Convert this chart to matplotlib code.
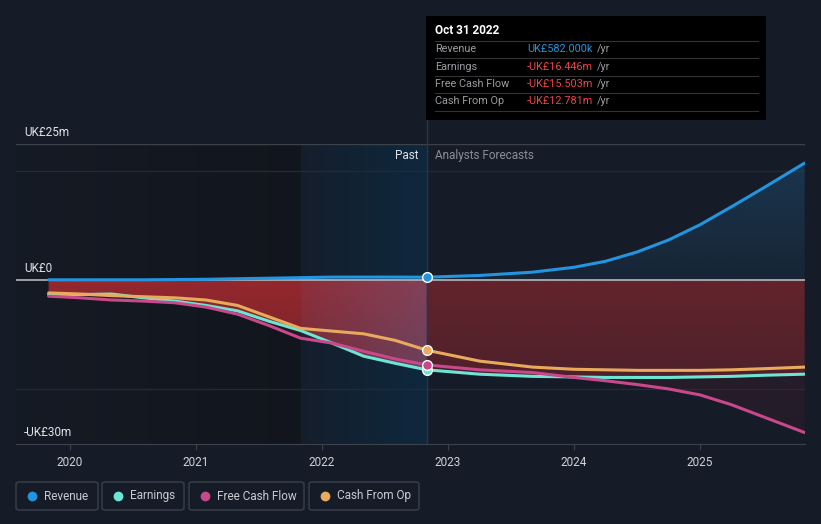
import numpy as np
import matplotlib
matplotlib.use('Agg')
import matplotlib.pyplot as plt
from matplotlib.patches import Rectangle, FancyBboxPatch
from matplotlib.lines import Line2D

plt.rcParams['font.family'] = ['Roboto', 'DejaVu Sans']

# --- data (UK£ m) ---
t = [2019.83, 2020.08, 2020.33, 2020.58, 2020.83, 2021.08, 2021.33, 2021.58,
     2021.83, 2022.08, 2022.33, 2022.58, 2022.83, 2023.25, 2023.67, 2024.0,
     2024.25, 2024.5, 2024.75, 2025.0, 2025.25, 2025.5, 2025.83]
revenue = [0.1, 0.1, 0.1, 0.1, 0.15, 0.2, 0.3, 0.4,
           0.5, 0.6, 0.6, 0.6, 0.58, 0.9, 1.5, 2.4,
           3.5, 5.2, 7.4, 10.2, 13.5, 16.9, 21.5]
earnings = [-2.6, -2.6, -2.5, -3.2, -3.8, -4.6, -5.6, -7.5,
            -9.2, -11.5, -13.9, -15.2, -16.4, -17.2, -17.6, -17.7,
            -17.8, -17.8, -17.8, -17.7, -17.6, -17.4, -17.2]
fcf = [-2.9, -3.2, -3.6, -3.8, -4.1, -4.9, -6.2, -8.3,
       -10.6, -11.5, -13.0, -14.4, -15.5, -16.4, -16.9, -17.8,
       -18.4, -19.1, -19.9, -21.0, -22.8, -25.0, -27.9]
cash_op = [-2.3, -2.5, -2.8, -3.0, -3.2, -3.6, -4.6, -6.7,
           -8.8, -9.3, -9.8, -11.0, -12.8, -14.8, -15.9, -16.3,
           -16.4, -16.5, -16.5, -16.5, -16.4, -16.2, -15.9]
now = 2022.83
past_start = 2021.83
year_ticks = [2020, 2021, 2022, 2023, 2024, 2025]
series = [('Revenue', revenue, '#2394df'), ('Earnings', earnings, '#6ce5d4'),
          ('Free Cash Flow', fcf, '#c9488b'), ('Cash From Op', cash_op, '#e8aa5c')]

W, H = 821, 524
BG = '#161c27'
fig = plt.figure(figsize=(W / 100, H / 100), dpi=100, facecolor=BG)


def fx(px):
    return px / W


def fy(py):
    return 1 - py / H


ax = fig.add_axes([fx(16), fy(444), fx(805) - fx(16), fy(144) - fy(444)])
ax.set_facecolor(BG)
x0, x1 = 2019.571, 2025.833

# darker past region, then highlighted last year
grad = np.linspace(0, 1, 256).reshape(1, -1)
dark = np.zeros((1, 256, 4))
dark[..., :3] = np.array([0.06, 0.07, 0.09])
dark[..., 3] = 0.15 + 0.45 * grad
ax.imshow(dark, extent=[x0, past_start, -30, 25], aspect='auto', zorder=0)
hl = np.zeros((1, 256, 4))
hl[..., :3] = np.array([0.05, 0.17, 0.27])
hl[..., 3] = 0.15 + 0.65 * grad
ax.imshow(hl, extent=[past_start, now, -30, 25], aspect='auto', zorder=0)

# gridlines
for v, c in [(25, '#3c424c'), (20, '#232935'), (-20, '#232935')]:
    ax.axhline(v, color=c, lw=1, zorder=1)


# filled areas with vertical gradient, clipped to the area polygons
def grad_fill(y, color, alpha_top, alpha_bot, alpha_future_scale, z):
    poly = ax.fill_between(t, 0, y, color='none', lw=0)
    img = np.zeros((200, 400, 4))
    img[..., :3] = matplotlib.colors.to_rgb(color)
    vv = np.linspace(1, 0, 200).reshape(-1, 1)
    xx = np.linspace(x0, x1, 400).reshape(1, -1)
    a = alpha_bot + (alpha_top - alpha_bot) * vv
    scale = np.where(xx > now, alpha_future_scale, 1.0)
    img[..., 3] = a * scale
    ymin = min(min(y), 0)
    ymax = max(max(y), 0)
    im = ax.imshow(img, extent=[x0, x1, ymin, ymax], aspect='auto', zorder=z)
    im.set_clip_path(poly.get_paths()[0], transform=ax.transData)
    return poly


grad_fill(revenue, '#1d4a70', 0.55, 0.2, 1.0, 2)
grad_fill(fcf, '#5a2030', 0.35, 0.25, 0.8, 2)
epoly = grad_fill(earnings, '#b02c30', 0.8, 0.55, 0.55, 2)

# bluish tint of the red area inside the highlighted year
tint = np.zeros((1, 256, 4))
tint[..., :3] = matplotlib.colors.to_rgb('#5a7ab8')
tint[..., 3] = 0.08 + 0.22 * grad
im = ax.imshow(tint, extent=[past_start, now, min(earnings), 0], aspect='auto', zorder=2.5)
im.set_clip_path(epoly.get_paths()[0], transform=ax.transData)

ax.set_xlim(x0, x1)
ax.set_ylim(-30, 25)

ax.axhline(0, color='#b8b8bc', lw=1.2, zorder=3)

for name, y, c in series:
    ax.plot(t, y, color=c, lw=2.2, zorder=4, solid_capstyle='round')
    i = t.index(now)
    ax.plot([now], [y[i]], 'o', ms=7, color=c, mec='white', mew=1, zorder=6)

ax.axvline(now, color='#25384a', lw=1, zorder=3)

for s in ['top', 'right', 'left']:
    ax.spines[s].set_visible(False)
ax.spines['bottom'].set_color('#3c424c')
ax.set_yticks([])
ax.set_xticks(year_ticks)
ax.set_xticklabels([str(y) for y in year_ticks], fontsize=8.5)
ax.tick_params(axis='x', colors='#3c424c', length=4, pad=5, labelcolor='#d0d2d6')

# y labels
for txt, py in [('UK£25m', 132), ('UK£0', 268), ('-UK£30m', 432)]:
    fig.text(fx(24), fy(py), txt, color='#e0e2e6', fontsize=8.5, va='center', ha='left')

fig.text(fx(418), fy(156), 'Past', color='#e0e2e6', fontsize=8.5, va='center', ha='right')
fig.text(fx(435), fy(156), 'Analysts Forecasts', color='#8a8e96', fontsize=8.5, va='center', ha='left')

# vertical line up to tooltip
fig.add_artist(Line2D([fx(426.5), fx(426.5)], [fy(120), fy(144)], color='#25384a', lw=1))

# tooltip
fig.add_artist(Rectangle((fx(426), fy(120)), fx(766) - fx(426), fy(16) - fy(120),
                         facecolor='black', edgecolor='none'))
fig.text(fx(435), fy(31), 'Oct 31 2022', color='white', fontsize=8.5, fontweight='bold', va='center')
rows = [('Revenue', 'UK£582.000k', '#2394df'), ('Earnings', '-UK£16.446m', '#ef4444'),
        ('Free Cash Flow', '-UK£15.503m', '#ef4444'), ('Cash From Op', '-UK£12.781m', '#ef4444')]
for k, (lab, val, c) in enumerate(rows):
    py = 49 + k * 17.5
    fig.add_artist(Line2D([fx(435), fx(758)], [fy(py - 8.5), fy(py - 8.5)], color='#333336', lw=0.8))
    fig.text(fx(435), fy(py), lab, color='#9a9ca2', fontsize=7.8, va='center')
    fig.text(fx(527), fy(py), val, color=c, fontsize=7.8, va='center')
    fig.text(fx(597), fy(py), '/yr', color='#9a9ca2', fontsize=7.8, va='center')
fig.add_artist(Line2D([fx(435), fx(758)], [fy(111), fy(111)], color='#333336', lw=0.8))

# legend
boxes = [(16, 98), (102, 184), (189, 304), (309, 419)]
for (bx0, bx1), (name, _, c) in zip(boxes, series):
    fig.add_artist(FancyBboxPatch((fx(bx0), fy(510)), fx(bx1) - fx(bx0), fy(482) - fy(510),
                                  boxstyle='round,pad=0,rounding_size=0.004',
                                  facecolor='none', edgecolor='#3a404c', lw=1))
    fig.add_artist(Line2D([fx(bx0 + 16)], [fy(496)], marker='o', ms=6, color=c, lw=0))
    fig.text(fx(bx0 + 28), fy(496), name, color='#c8cad0', fontsize=8.5, va='center')

fig.savefig('out.png', dpi=100, facecolor=BG)
